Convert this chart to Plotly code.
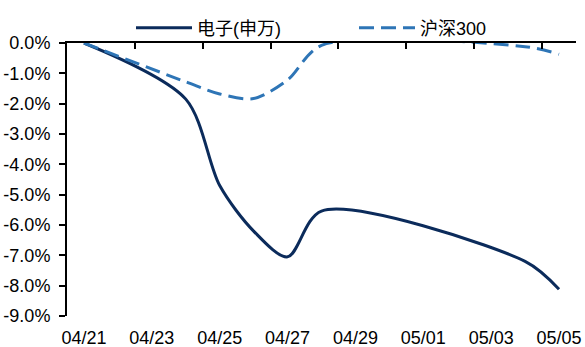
import plotly.graph_objects as go

dates = ["2023-04-21", "2023-04-24", "2023-04-25", "2023-04-26", "2023-04-27",
         "2023-04-28", "2023-05-04", "2023-05-05"]
electronics = [0.0, -1.85, -4.7, -6.2, -7.05, -5.54, -7.2, -8.12]
csi300 = [0.0, -1.28, -1.68, -1.83, -1.22, -0.08, -0.12, -0.37]
y_ticks = [0, -1, -2, -3, -4, -5, -6, -7, -8, -9]
x_range = ["2023-04-20 12:00", "2023-05-05 12:00"]

font_stack = "Liberation Sans, Arial, Noto Sans CJK SC, sans-serif"

fig = go.Figure()
fig.add_trace(go.Scatter(
    x=dates, y=electronics, name="电子(申万)", mode="lines",
    line=dict(color="#0B2B5B", width=3, shape="spline", smoothing=0.85),
))
fig.add_trace(go.Scatter(
    x=dates, y=csi300, name="沪深300", mode="lines", xaxis="x2",
    line=dict(color="#2E75B6", width=3, dash="15px,7px", shape="spline", smoothing=0.85),
))

fig.update_layout(
    width=585, height=347,
    margin=dict(l=67, r=9, t=43, b=31, autoexpand=False),
    paper_bgcolor="white", plot_bgcolor="white",
    font=dict(family=font_stack, size=18, color="black"),
    showlegend=True,
    legend=dict(
        orientation="h", xref="container", yref="container",
        x=131 / 585, xanchor="left", y=1 - 28 / 347, yanchor="middle",
        font=dict(family=font_stack, size=18, color="black"),
        itemwidth=56, entrywidth=152, bgcolor="rgba(0,0,0,0)",
    ),
    xaxis=dict(
        type="date", range=x_range, tickformat="%m/%d",
        tick0="2023-04-21", dtick=2 * 86400000,
        showline=False, ticks="", showgrid=False, zeroline=False,
        ticklabelstandoff=9, automargin=False,
        tickfont=dict(size=18),
    ),
    xaxis2=dict(
        type="date", range=x_range, overlaying="x", side="top", anchor="y",
        tick0="2023-04-22 12:00", dtick=2 * 86400000,
        showticklabels=False, ticks="inside", ticklen=6, tickwidth=2,
        tickcolor="black", showline=True, linecolor="black", linewidth=2,
        showgrid=False, zeroline=False, automargin=False,
    ),
    yaxis=dict(
        range=[-9, 0], tickvals=y_ticks,
        ticktext=[f"{v:.1f}%" for v in y_ticks],
        ticks="outside", ticklen=6, tickwidth=2, tickcolor="black",
        showline=True, linecolor="black", linewidth=2,
        showgrid=False, zeroline=False, automargin=False,
        ticklabelstandoff=5,
        tickfont=dict(size=18),
    ),
)

fig.write_html(
    "out.html",
    config={"displayModeBar": False},
    post_script="document.body.style.margin='0';document.body.style.overflow='hidden';",
)
